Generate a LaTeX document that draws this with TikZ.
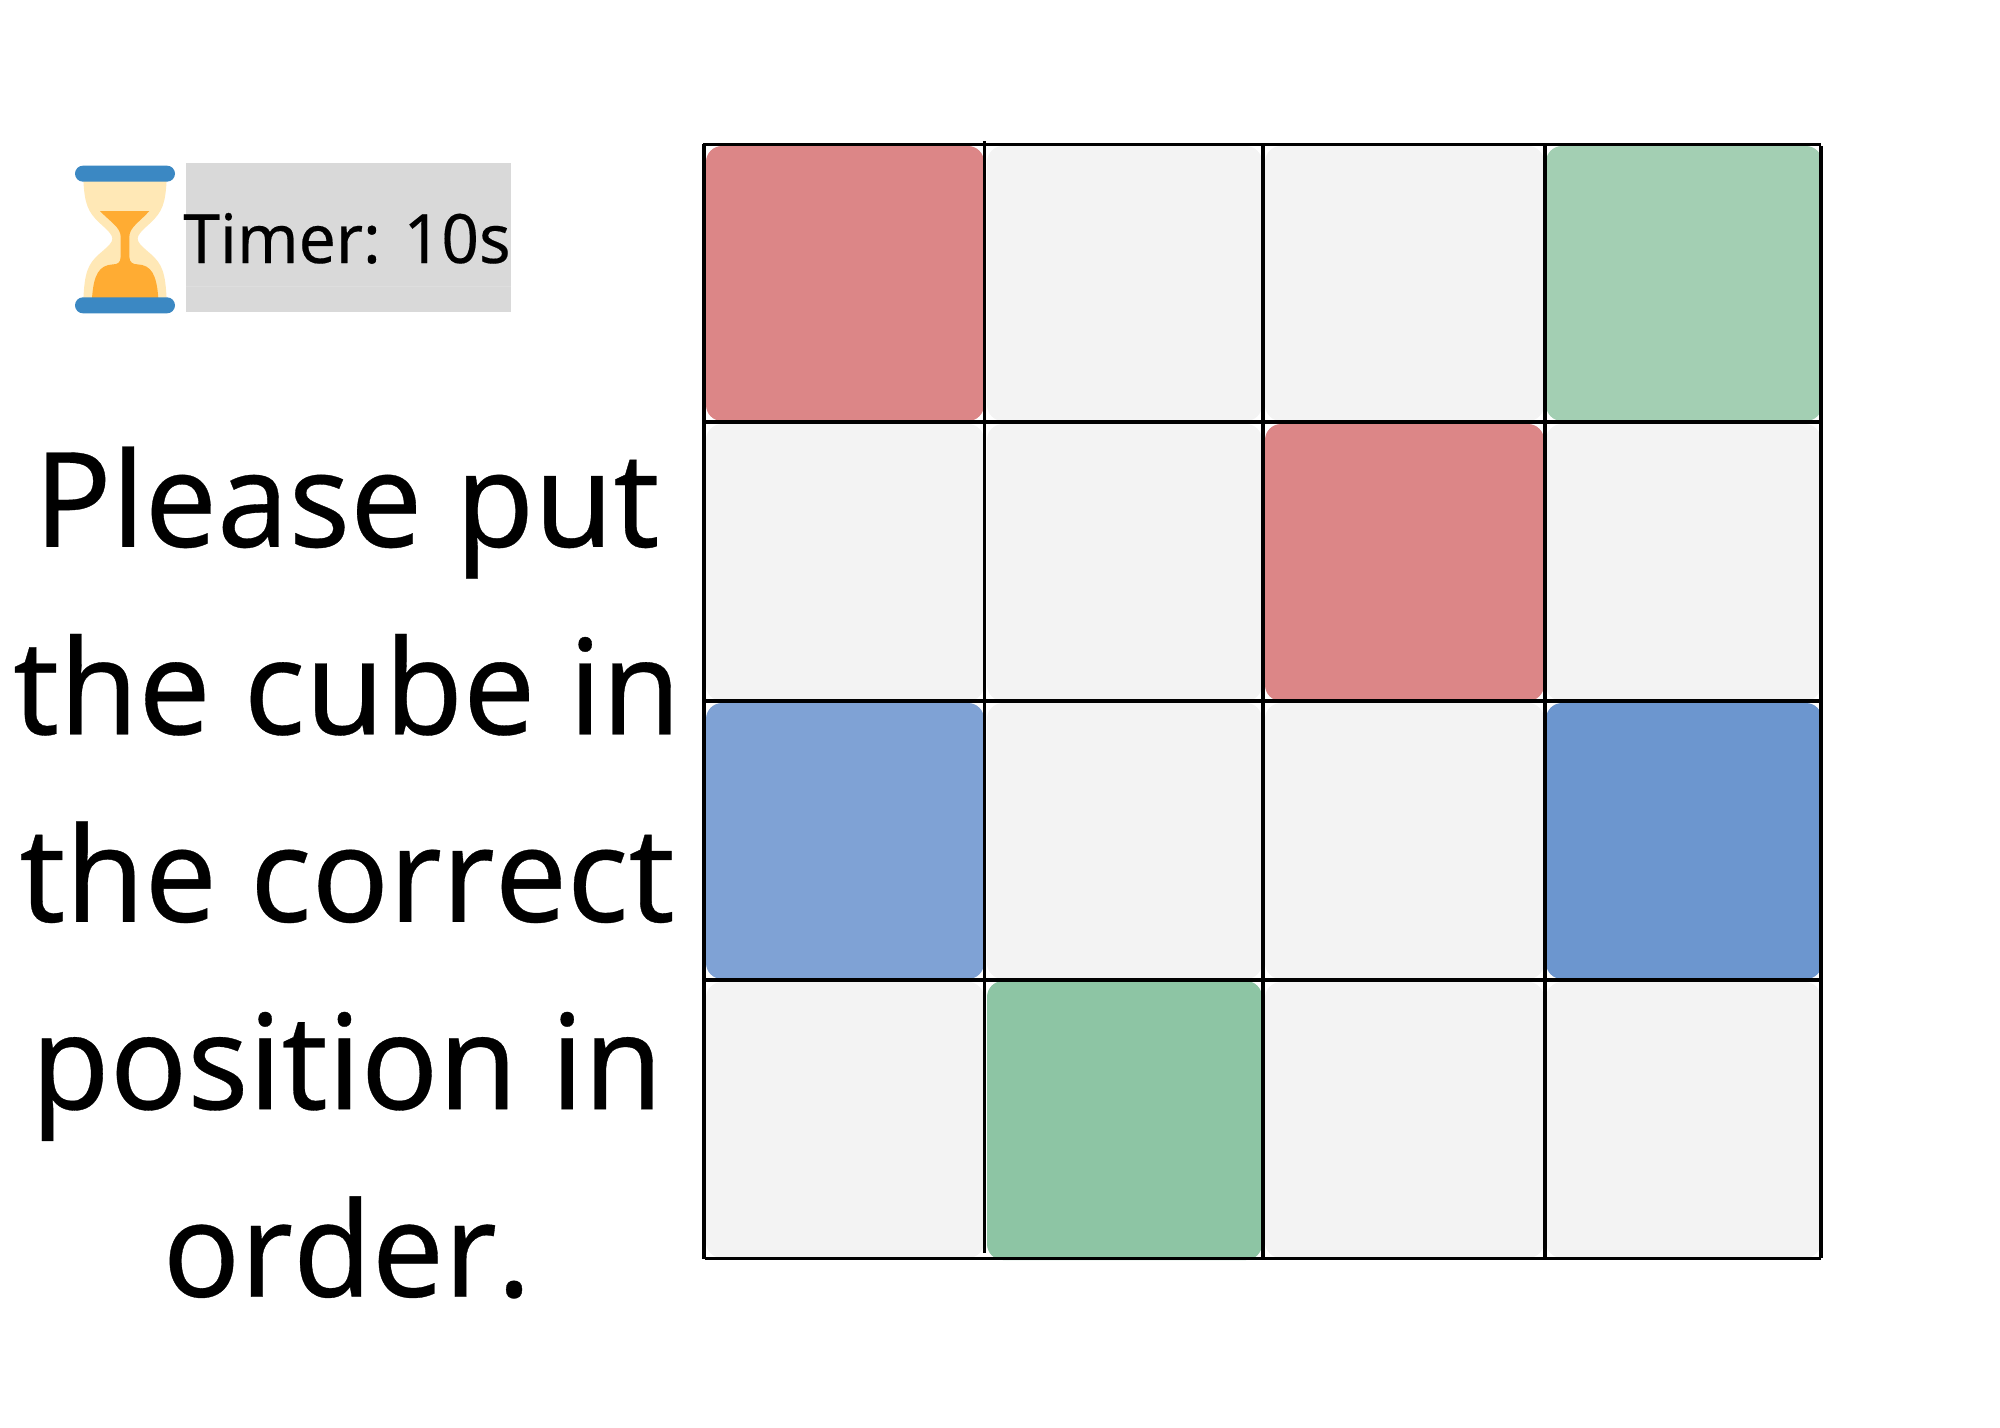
\documentclass[tikz,border=0pt]{standalone}
\usepackage{fontspec}
\setmainfont[Kerning=Off,FakeStretch=0.97,FakeBold=0.25]{Noto Sans}
\definecolor{cellgrey}{HTML}{F3F3F3}
\definecolor{cellred}{HTML}{DC8687}
\definecolor{cellgreenA}{HTML}{A3CFB3}
\definecolor{cellgreenB}{HTML}{8DC5A4}
\definecolor{cellblueA}{HTML}{7FA2D5}
\definecolor{cellblueB}{HTML}{6C96CF}
\definecolor{hgcream}{HTML}{FFE8B6}
\definecolor{hgorange}{HTML}{FFAC33}
\definecolor{hgblue}{HTML}{3B88C3}
\tikzset{
  cellbox/.style={rounded corners=12pt},
  gridline/.style={black,line width=2.3pt},
  hgbar/.style={fill=hgblue,rounded corners=6pt},
}
\begin{document}
\begin{tikzpicture}[x=0.75pt,y=-0.75pt]
\useasboundingbox (0,0) rectangle (2000,1428);
\fill[white] (0,0) rectangle (2000,1428);
% cells
\foreach \cx/\cy/\cw/\ch/\col in {
 706/146/278/275/cellred, 987/146/275/275/cellgrey, 1265/146/279/275/cellgrey, 1546/146/276/275/cellgreenA,
 706/424/278/277/cellgrey, 987/424/275/277/cellgrey, 1265/424/279/277/cellred, 1546/424/275/277/cellgrey,
 706/703/278/276/cellblueA, 987/703/275/276/cellgrey, 1265/703/279/276/cellgrey, 1546/703/276/276/cellblueB,
 706/982/278/276/cellgrey, 987/981/275/279/cellgreenB, 1265/982/279/276/cellgrey, 1546/982/275/276/cellgrey}
 {\fill[cellbox,\col] (\cx,\cy) rectangle ++(\cw,\ch);}
% grid lines
\draw[gridline] (704,144) -- (704,1259);
\draw[gridline] (984.5,141) -- (984.5,1253);
\draw[gridline] (1263,144) -- (1263,1258);
\draw[gridline] (1545,144) -- (1545,1258);
\draw[gridline] (1821,146) -- (1821,1258);
\draw[gridline] (703,144.5) -- (1821,144.5);
\draw[gridline] (704,422) -- (1821,422);
\draw[gridline] (704,701) -- (1821,701);
\draw[gridline] (704,980) -- (1821,980);
\draw[gridline] (705,1258.5) -- (1821,1258.5);
% timer
\fill[fill=black!15] (186,162.7) rectangle (511,311.7);
\draw[black!13,line width=0.5pt] (186,286) -- (511,286);
\begin{scope}[shift={(50,140)},x=0.25pt,y=-0.25pt]
 \fill[hgcream] (100,120) .. controls (104,190) and (112,215) .. (150,250)
   .. controls (178,275) and (187,285) .. (187,296)
   .. controls (187,307) and (178,316) .. (150,340)
   .. controls (112,372) and (104,400) .. (100,478) -- (350,478)
   .. controls (346,400) and (338,372) .. (300,340)
   .. controls (272,316) and (263,307) .. (263,296)
   .. controls (263,285) and (272,275) .. (300,250)
   .. controls (338,215) and (346,190) .. (350,120) -- cycle;
 \fill[hgorange] (150,213) -- (298,213) .. controls (270,245) and (238,262) .. (238,290)
   -- (238,350) .. controls (238,368) and (250,373) .. (262,373)
   .. controls (305,375) and (320,405) .. (325,475) -- (126,475)
   .. controls (131,405) and (146,375) .. (190,373)
   .. controls (202,373) and (212,368) .. (212,350)
   -- (212,290) .. controls (212,262) and (180,245) .. (150,213) -- cycle;
 \fill[hgbar] (75,77) rectangle (375,125);
 \fill[hgbar] (75,472) rectangle (375,520);
\end{scope}
\node[anchor=base,inner sep=0pt,font=\fontsize{51pt}{60pt}\selectfont] (timer) at (347,263) {Timer: 10s};
% instruction
\node[align=center,inner sep=0pt,font=\fontsize{99pt}{140.6pt}\selectfont] (instr) at (347,872.5) {Please put\\the cube in\\the correct\\position in\\order.};
\end{tikzpicture}
\end{document}
